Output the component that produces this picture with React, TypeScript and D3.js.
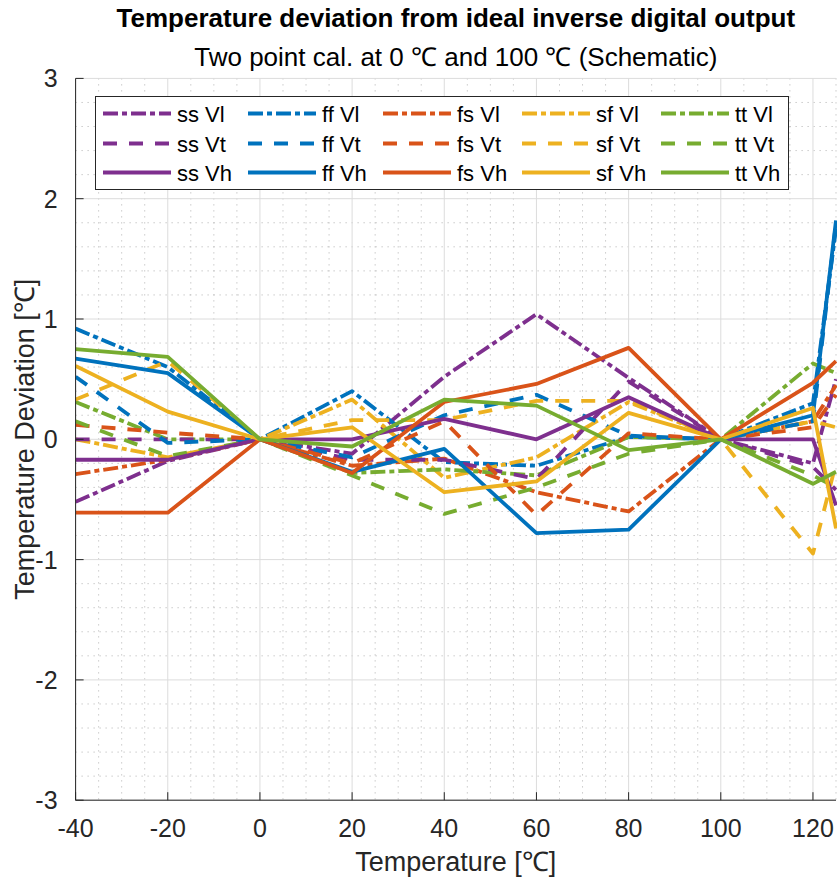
import React from 'react';
import * as d3 from 'd3';

// temperatures at which the deviation was evaluated
const temps = [-40, -20, 0, 20, 40, 60, 80, 100, 120, 125];
const xTicks = [-40, -20, 0, 20, 40, 60, 80, 100, 120];
const yTicks = [-3, -2, -1, 0, 1, 2, 3];

// deviation [degC] per corner / voltage
const ssVl = [-0.52, -0.18, 0, -0.12, 0.52, 1.04, 0.51, 0, -0.2, 0.5];
const ffVl = [0.92, 0.6, 0, 0.4, -0.19, -0.22, 0.02, 0, 0.3, 1.75];
const fsVl = [-0.29, -0.17, 0, -0.22, -0.16, -0.44, -0.6, 0, 0.15, 0.45];
const sfVl = [0, -0.15, 0, 0.33, -0.32, -0.15, 0.31, 0, 0.15, 0.1];
const ttVl = [0.31, 0, 0, -0.28, -0.25, -0.3, 0.02, 0, 0.63, 0.55];

const ssVt = [0, 0, 0, -0.17, -0.17, -0.33, 0.48, 0, -0.23, -0.42];
const ffVt = [0.52, -0.03, 0, -0.15, 0.2, 0.37, 0.03, 0, 0.15, 1.8];
const fsVt = [0.12, 0.055, 0, -0.2, 0.15, -0.63, 0.05, 0, 0.1, 0.37];
const sfVt = [0.33, 0.65, 0, 0.16, 0.16, 0.32, 0.32, 0, -0.95, -0.2];
const ttVt = [0.15, -0.14, 0, -0.3, -0.62, -0.4, -0.12, 0, -0.3, -0.4];

const ssVh = [-0.17, -0.17, 0, 0, 0.17, 0, 0.35, 0, 0, -0.55];
const ffVh = [0.67, 0.55, 0, -0.27, -0.08, -0.78, -0.75, 0, 0.2, 1.82];
const fsVh = [-0.61, -0.61, 0, -0.28, 0.31, 0.46, 0.76, 0, 0.47, 0.65];
const sfVh = [0.61, 0.23, 0, 0.1, -0.44, -0.35, 0.22, 0, 0.26, -0.74];
const ttVh = [0.75, 0.685, 0, -0.06, 0.33, 0.28, -0.09, 0, -0.37, -0.27];

const corners = ['ss', 'ff', 'fs', 'sf', 'tt'];
const voltages = ['Vl', 'Vt', 'Vh'];
const colors: Record<string, string> = {
  ss: '#7E2F8E',
  ff: '#0072BD',
  fs: '#D95319',
  sf: '#EDB120',
  tt: '#77AC30',
};
const dash: Record<string, string> = { Vl: '15,4,5,4', Vt: '14,12', Vh: 'none' };

// plot order = legend order (row by row)
const series = [
  { corner: 'ss', v: 'Vl', values: ssVl },
  { corner: 'ff', v: 'Vl', values: ffVl },
  { corner: 'fs', v: 'Vl', values: fsVl },
  { corner: 'sf', v: 'Vl', values: sfVl },
  { corner: 'tt', v: 'Vl', values: ttVl },
  { corner: 'ss', v: 'Vt', values: ssVt },
  { corner: 'ff', v: 'Vt', values: ffVt },
  { corner: 'fs', v: 'Vt', values: fsVt },
  { corner: 'sf', v: 'Vt', values: sfVt },
  { corner: 'tt', v: 'Vt', values: ttVt },
  { corner: 'ss', v: 'Vh', values: ssVh },
  { corner: 'ff', v: 'Vh', values: ffVh },
  { corner: 'fs', v: 'Vh', values: fsVh },
  { corner: 'sf', v: 'Vh', values: sfVh },
  { corner: 'tt', v: 'Vh', values: ttVh },
];

const font = "'Liberation Sans', Arial, Helvetica, sans-serif";

export default function App() {
  const width = 837;
  const height = 882;
  const left = 75.6;
  const right = 836;
  const top = 78.4;
  const bottom = 800.2;

  const x = d3.scaleLinear().domain([-40, 125]).range([left, right]);
  const y = d3.scaleLinear().domain([-3, 3]).range([bottom, top]);

  const line = d3
    .line<number>()
    .x((_, i) => x(temps[i]))
    .y((d) => y(d));

  const xMinor = d3.range(-40, 126, 5).filter((t) => t % 20 !== 0);
  const yMinor = d3.range(-30, 31, 2).filter((t) => t % 10 !== 0).map((t) => t / 10);

  // legend layout
  const legX = [103, 248, 383, 522, 661];
  const legY = [113.5, 143.5, 172.5];
  const sampleLen = 68;

  return (
    <svg
      width={width}
      height={height}
      style={{ position: 'absolute', left: 0, top: 0, background: '#fff' }}
      fontFamily={font}
    >
      <defs>
        <clipPath id="plot">
          <rect x={left} y={top - 2} width={right - left + 2} height={bottom - top + 4} />
        </clipPath>
      </defs>

      {/* minor grid */}
      <g stroke="#b0b0b0" strokeWidth={1} strokeDasharray="1,5">
        {xMinor.map((t) => (
          <line key={'xm' + t} x1={x(t)} x2={x(t)} y1={top} y2={bottom} />
        ))}
        {yMinor.map((t) => (
          <line key={'ym' + t} x1={left} x2={right} y1={y(t)} y2={y(t)} />
        ))}
      </g>
      {/* major grid */}
      <g stroke="#dcdcdc" strokeWidth={1}>
        {xTicks.map((t) => (
          <line key={'xg' + t} x1={x(t)} x2={x(t)} y1={top} y2={bottom} />
        ))}
        {yTicks.map((t) => (
          <line key={'yg' + t} x1={left} x2={right} y1={y(t)} y2={y(t)} />
        ))}
      </g>

      {/* data */}
      <g clipPath="url(#plot)" fill="none" strokeWidth={3.8} strokeLinejoin="round">
        {series.map((s) => (
          <path
            key={s.corner + s.v}
            d={line(s.values) || ''}
            stroke={colors[s.corner]}
            strokeDasharray={dash[s.v]}
          />
        ))}
      </g>

      {/* axes */}
      <g stroke="#262626" strokeWidth={1}>
        <line x1={left} x2={left} y1={top} y2={bottom} />
        <line x1={left} x2={right} y1={bottom} y2={bottom} />
        {xTicks.map((t) => (
          <line key={'xt' + t} x1={x(t)} x2={x(t)} y1={bottom} y2={bottom - 8} />
        ))}
        {yTicks.map((t) => (
          <line key={'yt' + t} x1={left} x2={left + 8} y1={y(t)} y2={y(t)} />
        ))}
      </g>
      <g fontSize={25} fill="#262626">
        {xTicks.map((t) => (
          <text key={'xl' + t} x={x(t)} y={bottom + 37} textAnchor="middle">
            {t}
          </text>
        ))}
        {yTicks.map((t) => (
          <text key={'yl' + t} x={left - 18} y={y(t) + 9} textAnchor="end">
            {t}
          </text>
        ))}
      </g>

      {/* labels */}
      <text x={(left + right) / 2} y={27} textAnchor="middle" fontSize={26} fontWeight="bold" fill="#000">
        Temperature deviation from ideal inverse digital output
      </text>
      <text x={(left + right) / 2} y={66} textAnchor="middle" fontSize={26} fill="#000">
        Two point cal. at 0 ℃ and 100 ℃ (Schematic)
      </text>
      <text x={(left + right) / 2} y={871} textAnchor="middle" fontSize={27} fill="#262626">
        Temperature [℃]
      </text>
      <text
        transform={`translate(34,${(top + bottom) / 2}) rotate(-90)`}
        textAnchor="middle"
        fontSize={27}
        fill="#262626"
      >
        Temperature Deviation [℃]
      </text>

      {/* legend */}
      <rect x={95.5} y={96.5} width={693} height={93} fill="#fff" stroke="#262626" strokeWidth={1} />
      {series.map((s) => {
        const col = corners.indexOf(s.corner);
        const row = voltages.indexOf(s.v);
        const lx = legX[col];
        const ly = legY[row];
        return (
          <g key={'leg' + s.corner + s.v}>
            <line
              x1={lx}
              x2={lx + sampleLen}
              y1={ly}
              y2={ly}
              stroke={colors[s.corner]}
              strokeWidth={3.8}
              strokeDasharray={dash[s.v]}
            />
            <text x={lx + sampleLen + 6} y={ly + 8} fontSize={22} fill="#000">
              {s.corner + ' ' + s.v}
            </text>
          </g>
        );
      })}
    </svg>
  );
}
